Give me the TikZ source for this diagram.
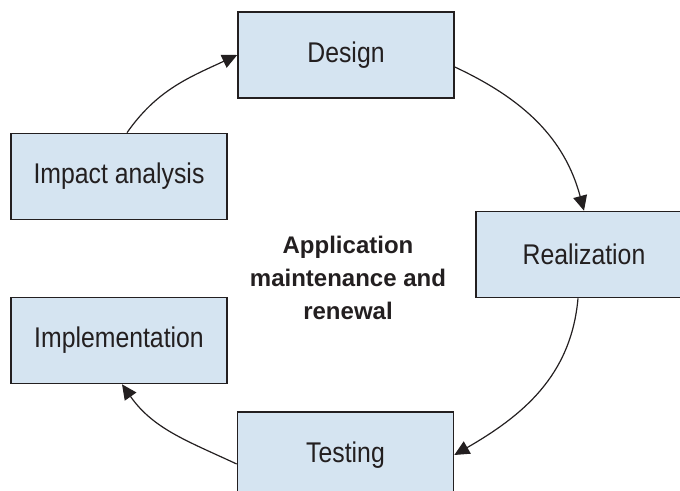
\documentclass[tikz,border=0pt]{standalone}
\usepackage{fontspec}
\setmainfont{Liberation Sans}
\newfontfamily\condfont[FakeStretch=0.87]{Liberation Sans}
\usetikzlibrary{arrows.meta}
\definecolor{boxfill}{HTML}{D5E4F1}
\definecolor{ink}{HTML}{231F20}
\tikzset{
  stagebox/.style={draw=ink, line width=1.6pt, fill=boxfill, minimum width=216pt, minimum height=86pt,
    inner sep=0pt, text=ink, font=\condfont\fontsize{28.5}{30}\selectfont},
  flow/.style={draw=ink, line width=1.2pt, -{Triangle[length=15pt,width=14pt]}},
}
\begin{document}
\begin{tikzpicture}[x=1pt,y=-1pt]
\clip (0,0) rectangle (680,490);
\node[stagebox] (design) at (346,55) {Design};
\node[stagebox] (impact) at (119,176.5) {Impact analysis};
\node[stagebox] (realization) at (584,254.5) {Realization};
\node[stagebox] (impl) at (119,340.5) {Implementation};
\node[stagebox] (testing) at (345.5,455) {Testing};
\node[text=ink, align=center, font=\bfseries\fontsize{24}{33}\selectfont] (center) at (348,278) {Application\\maintenance and\\renewal};
\draw[flow] ([xshift=8pt]impact.north) to[out=55,in=205] (design.west);
\draw[flow] ([yshift=-12pt]design.east) to[out=-25,in=105] (realization.north);
\draw[flow] ([xshift=-6pt]realization.south) to[out=-95,in=30] (testing.east);
\draw[flow] ([yshift=-9pt]testing.west) to[out=155,in=-55] ([xshift=3pt]impl.south);
\end{tikzpicture}
\end{document}
